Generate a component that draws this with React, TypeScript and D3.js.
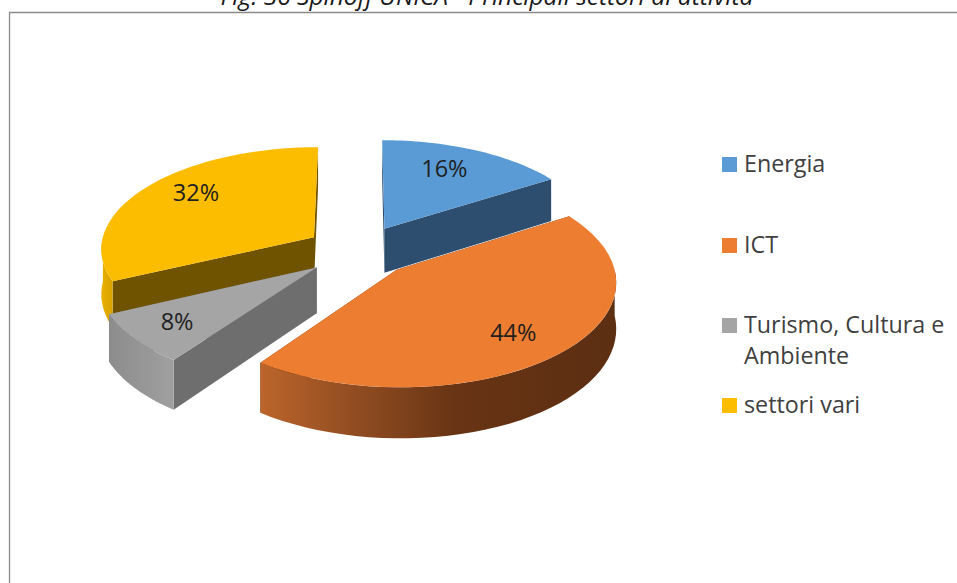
import React from "react";
import * as d3 from "d3";

const categories = ["Energia", "ICT", "Turismo, Cultura e|Ambiente", "settori vari"];
const shares = [16, 44, 8, 32];
const topColors = ["#5B9BD5", "#ED7D31", "#A5A5A5", "#FCBD00"];
const wallColors = ["#2E4E6F", "#5F2F12", "#6E6E6E", "#6F5300"];
const titleText = "Fig. 36 Spinoff UNICA - Principali settori di attività";
const drawOrder = [3, 0, 2, 1];
const legendBaselines = [172, 253, 333, 413];

const W = 957, H = 583;
const CX = 359, CY = 250.8, R = 214, SQUASH = 0.475, DEPTH = 45, EXPLODE = 54, PERSP = 10;
const FONT = "'Open Sans', sans-serif";
const TEXT = "#404040";

const pieGen = d3.pie<number>().sort(null).value(d => d);
const arcs = pieGen(shares);

type P = [number, number];
// project a point of the pie plane (screen-right X, viewer-forward Y) with a light perspective
function project(X: number, Y: number, z: number): P {
  const s = 1 / (1 - Y / R / PERSP);
  return [CX + X * s, CY + (Y * SQUASH + z) * s];
}
function pt(mid: number, a: number, r: number, z: number): P {
  const X = EXPLODE * Math.sin(mid) + r * Math.sin(a);
  const Y = -EXPLODE * Math.cos(mid) - r * Math.cos(a);
  return project(X, Y, z);
}
const line = d3.line<P>();
const samples = (a0: number, a1: number) => d3.range(41).map(i => a0 + ((a1 - a0) * i) / 40);

const labelNudge: P[] = [[-7, -2], [1, 5], [-11, 4], [4, -7]];

export default function App() {
  return (
    <svg width={W} height={H} viewBox={`0 0 ${W} ${H}`} style={{ position: "absolute", left: 0, top: 0, background: "#fff" }}>
      <defs>
        <linearGradient id="wall1" gradientUnits="userSpaceOnUse" x1={260} x2={617} y1={0} y2={0}>
          <stop offset="0" stopColor="#BC652B" />
          <stop offset="0.25" stopColor="#934E22" />
          <stop offset="0.55" stopColor="#683414" />
          <stop offset="1" stopColor="#5C2E12" />
        </linearGradient>
        <linearGradient id="wall2" gradientUnits="userSpaceOnUse" x1={108} x2={176} y1={0} y2={0}>
          <stop offset="0" stopColor="#8C8C8C" />
          <stop offset="1" stopColor="#A0A0A0" />
        </linearGradient>
        <linearGradient id="wall3" gradientUnits="userSpaceOnUse" x1={100} x2={112} y1={0} y2={0}>
          <stop offset="0" stopColor="#EDB200" />
          <stop offset="1" stopColor="#D9A300" />
        </linearGradient>
      </defs>

      <text x={487} y={5} textAnchor="middle" fontFamily={FONT} fontStyle="italic" fontSize={24.5} fill="#1a1a1a">{titleText}</text>
      <path d={`M9.5 ${H} V12.5 H${W}`} fill="none" stroke="#8A8A8A" strokeWidth={1.3} />

      {drawOrder.map(i => {
        const d = arcs[i];
        const mid = (d.startAngle + d.endAngle) / 2;
        const face = (a: number) => line([pt(mid, a, 0, 0), pt(mid, a, R, 0), pt(mid, a, R, DEPTH), pt(mid, a, 0, DEPTH)]) + "Z";
        const lo = Math.max(d.startAngle, Math.PI / 2), hi = Math.min(d.endAngle, (3 * Math.PI) / 2);
        const outer = lo < hi ? samples(lo, hi) : [];
        const rim = outer.length
          ? line([...outer.map(a => pt(mid, a, R, 0)), ...outer.slice().reverse().map(a => pt(mid, a, R, DEPTH))]) + "Z"
          : null;
        const top = line([pt(mid, 0, 0, 0), ...samples(d.startAngle, d.endAngle).map(a => pt(mid, a, R, 0))]) + "Z";
        return (
          <g key={i}>
            <path d={face(d.startAngle)} fill={wallColors[i]} />
            <path d={face(d.endAngle)} fill={wallColors[i]} />
            {rim && <path d={rim} fill={i === 0 ? wallColors[0] : `url(#wall${i})`} />}
            <path d={top} fill={topColors[i]} />
          </g>
        );
      })}

      {arcs.map((d, i) => {
        const mid = (d.startAngle + d.endAngle) / 2;
        const [x, y] = pt(mid, mid, R * 0.72, 0);
        return (
          <text key={i} x={x + labelNudge[i][0]} y={y + labelNudge[i][1] + 8} textAnchor="middle" fontFamily={FONT} fontSize={23.5} fill="#1f1f1f">
            {shares[i]}%
          </text>
        );
      })}

      {categories.map((c, i) => (
        <g key={c}>
          <rect x={722} y={legendBaselines[i] - 15} width={15} height={15} fill={topColors[i]} />
          {c.split("|").map((t, j) => (
            <text key={j} x={744} y={legendBaselines[i] + j * 31} fontFamily={FONT} fontSize={23.3} fill={TEXT}>{t}</text>
          ))}
        </g>
      ))}
    </svg>
  );
}
